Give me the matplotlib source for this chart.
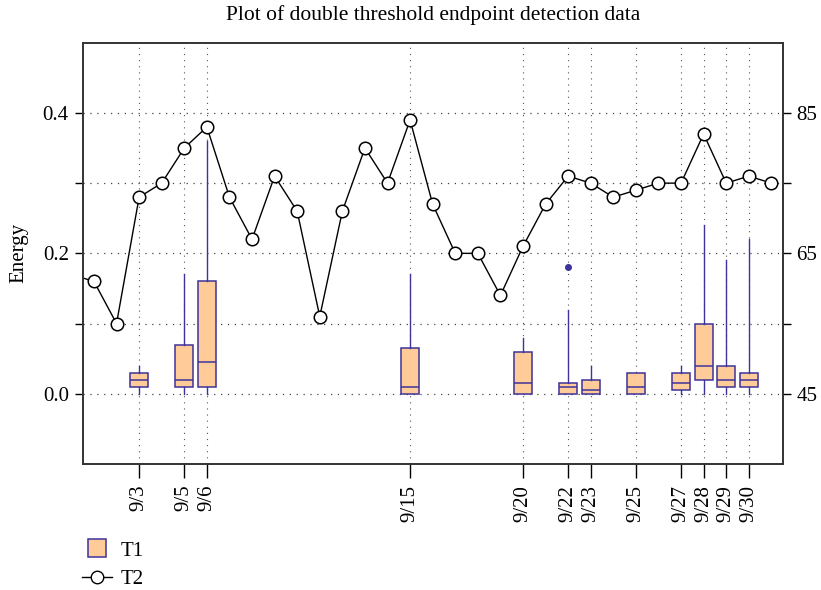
import matplotlib
matplotlib.use("Agg")
import matplotlib.pyplot as plt
from matplotlib.patches import Patch, Rectangle
from matplotlib.lines import Line2D
from matplotlib.legend_handler import HandlerPatch

plt.rcParams['font.family'] = ['Liberation Serif', 'DejaVu Serif']

# ---- data ----
box_days = [3, 5, 6, 15, 20, 22, 23, 25, 27, 28, 29, 30]
box_labels = ['9/3', '9/5', '9/6', '9/15', '9/20', '9/22', '9/23', '9/25',
              '9/27', '9/28', '9/29', '9/30']
t1_whislo = [0, 0, 0, 0, 0, 0, 0, 0, 0, 0, 0, 0]
t1_q1 = [0.01, 0.01, 0.01, 0.0, 0.0, 0.0, 0.0, 0.0, 0.005, 0.02, 0.01, 0.01]
t1_med = [0.02, 0.02, 0.045, 0.01, 0.015, 0.01, 0.005, 0.01, 0.015, 0.04, 0.02, 0.02]
t1_q3 = [0.03, 0.07, 0.16, 0.065, 0.06, 0.015, 0.02, 0.03, 0.03, 0.10, 0.04, 0.03]
t1_whishi = [0.04, 0.17, 0.36, 0.17, 0.08, 0.12, 0.04, 0.03, 0.04, 0.24, 0.19, 0.22]
t1_fliers = [[], [], [], [], [], [0.18], [], [], [], [], [], []]

t2_days = list(range(0, 32))
t2_values = [62, 61, 55, 73, 75, 80, 83, 73, 67, 76, 71, 56, 71, 80, 75, 84,
             72, 65, 65, 59, 66, 72, 76, 75, 73, 74, 75, 75, 82, 75, 76, 75]

edge = '#3d3399'
fill = '#ffcc99'
fs = 15

fig = plt.figure(figsize=(8.21, 5.90), dpi=100)
ax = fig.add_axes([0.1007, 0.2136, 0.8526, 0.714])

stats = []
for i in range(len(box_days)):
    stats.append(dict(med=t1_med[i], q1=t1_q1[i], q3=t1_q3[i],
                      whislo=t1_whislo[i], whishi=t1_whishi[i],
                      fliers=t1_fliers[i]))
ax.bxp(stats, positions=box_days, widths=0.8, patch_artist=True,
       showcaps=False, showfliers=True,
       boxprops=dict(facecolor=fill, edgecolor=edge, linewidth=1.1),
       medianprops=dict(color=edge, linewidth=1.1),
       whiskerprops=dict(color=edge, linewidth=1.0),
       flierprops=dict(marker='o', markerfacecolor=edge, markeredgecolor=edge,
                       markersize=4))

ax.set_xlim(0.5, 31.5)
ax.set_ylim(-0.1, 0.5)
ax.set_xticks(box_days)
ax.set_xticklabels(box_labels, rotation=90, fontsize=fs)
ax.set_yticks([0.0, 0.1, 0.2, 0.3, 0.4])
ax.set_yticklabels(['0.0', '', '0.2', '', '0.4'], fontsize=fs)
ax.tick_params(axis='x', direction='out', length=10, width=1, pad=5)
ax.tick_params(axis='y', direction='out', length=6, width=1, pad=4)
ax.set_ylabel('Energy', fontsize=fs, labelpad=10)

dot = (0, (1, 4.5))
for y in [0.0, 0.1, 0.2, 0.3, 0.4]:
    ax.axhline(y, color='#444444', linestyle=dot, linewidth=0.9, zorder=0)
for d in box_days:
    ax.axvline(d, color='#555555', linestyle=dot, linewidth=0.8, zorder=0)

for s in ax.spines.values():
    s.set_color('#333333')
    s.set_linewidth(1.2)

ax2 = ax.twinx()
ax2.plot(t2_days, t2_values, color='black', linewidth=1.0, marker='o',
         markersize=9, markerfacecolor='white', markeredgecolor='black',
         markeredgewidth=1.1)
ax2.set_ylim(35, 95)
ax2.set_yticks([45, 55, 65, 75, 85])
ax2.set_yticklabels(['45', '', '65', '', '85'], fontsize=fs)
ax2.tick_params(axis='y', direction='out', length=6, width=1, pad=4)
for s in ax2.spines.values():
    s.set_color('#333333')
    s.set_linewidth(1.2)

ax.set_title('Plot of double threshold endpoint detection data', fontsize=15.5, pad=16)


def square_patch(legend, orig_handle, xdescent, ydescent, width, height, fontsize):
    side = height * 1.25
    return Rectangle((xdescent + (width - side) / 2, ydescent - (side - height) / 2),
                     side, side)


handles = [Patch(facecolor=fill, edgecolor=edge, linewidth=1.1),
           Line2D([], [], color='black', linewidth=1.0, marker='o', markersize=9,
                  markerfacecolor='white', markeredgecolor='black')]
fig.legend(handles, ['T1', 'T2'], loc='lower left', bbox_to_anchor=(0.077, -0.03),
           frameon=False, fontsize=fs, handlelength=1.45, handletextpad=0.4,
           labelspacing=0.42,
           handler_map={Patch: HandlerPatch(patch_func=square_patch)})

fig.savefig('out.png', dpi=100)
